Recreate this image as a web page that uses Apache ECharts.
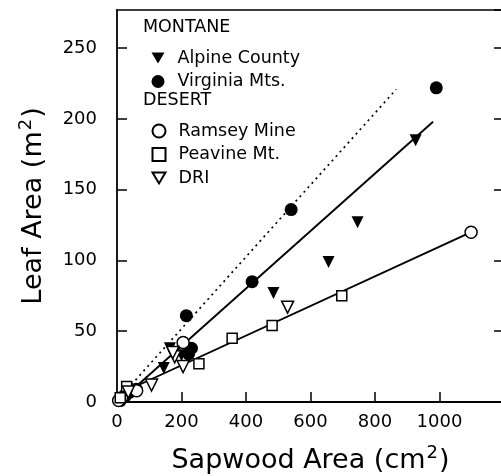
<!DOCTYPE html>
<html>
<head>
    <meta charset="utf-8">
    <title>Leaf area vs sapwood area</title>
    <script src="https://cdn.jsdelivr.net/npm/echarts@6/dist/echarts.min.js"></script>
    <style>
        html, body { margin: 0; padding: 0; background: #fff; }
    </style>
</head>
<body>
<div id="main" style="width: 501px;height:476px;"></div>
<script type="text/javascript">
    // [sapwood area cm2, leaf area m2]
    var alpineCounty = [[926, 185], [746, 127], [656, 99], [485, 77], [164, 38], [145, 24], [200, 33], [40, 6], [28, 4]];
    var virginiaMts = [[990, 222], [540, 136], [419, 85], [215, 61], [231, 38], [222, 34], [40, 7], [25, 4], [60, 9], [10, 1]];
    var ramseyMine = [[1098, 120], [205, 42], [14, 3], [61, 8], [5, 1]];
    var peavineMt = [[697, 75], [481, 54], [357, 45], [254, 27], [30, 11], [10, 3]];
    var dri = [[529, 67], [107, 12], [179, 32], [205, 25], [173, 35], [35, 7]];

    // fitted lines (end points)
    var montaneFit = [[15, 2], [980, 198]];
    var virginiaFit = [[20, 6], [866, 221]];
    var desertFit = [[10, 6], [1098, 120]];

    var xTicks = { min: 0, max: 1200, interval: 200 };
    var yTicks = { min: 0, max: 277, interval: 50 };

    var font = 'DejaVu Sans';
    var downTri = 'path://M0,0L12,0L6,10Z';
    var myChart = echarts.init(document.getElementById('main'));

    function pointSeries(name, data, symbol, open, size) {
        return {
            name: name,
            type: 'scatter',
            data: data,
            symbol: symbol,
            symbolSize: size,
            symbolRotate: symbol === 'triangle' ? 180 : 0,
            symbolKeepAspect: true,
            itemStyle: open
                ? { color: '#fff', borderColor: '#000', borderWidth: 1.5, opacity: 1 }
                : { color: '#000', borderColor: '#000', borderWidth: 0, opacity: 1 },
            z: 3
        };
    }

    function fitSeries(data, dashed) {
        return {
            type: 'line',
            data: data,
            showSymbol: false,
            symbol: 'none',
            silent: true,
            lineStyle: { color: '#000', width: dashed ? 1.7 : 1.9, type: dashed ? [2, 4] : 'solid' },
            z: 2
        };
    }

    var legendText = {
        fontFamily: font, fontSize: 17.5, color: '#000', lineHeight: 20, padding: [0, 0, 0, 8]
    };

    var titleStyle = {
        fontFamily: font, fontSize: 27, color: '#000',
        rich: { sup: { fontFamily: font, fontSize: 18, color: '#000', padding: [0, 1, 16, 1] } }
    };

    function plainNumber(v) { return String(v); }

    myChart.setOption({
        animation: false,
        textStyle: { fontFamily: font },
        grid: { left: 117, right: -3, top: 10, bottom: 74, outerBoundsMode: 'none', containLabel: false },
        graphic: [
            { type: 'text', left: 143, top: 18, style: { text: 'MONTANE', font: '17.5px ' + font, fill: '#000' } },
            { type: 'text', left: 143, top: 91, style: { text: 'DESERT', font: '17.5px ' + font, fill: '#000' } }
        ],
        legend: [{
            data: [{ name: 'Alpine County', icon: downTri }, { name: 'Virginia Mts.', icon: 'circle' }],
            orient: 'vertical', left: 146.5, top: 43,
            itemWidth: 13, itemHeight: 13, itemGap: 3.5,
            selectedMode: false, textStyle: legendText
        }, {
            data: [{ name: 'Ramsey Mine', icon: 'circle' }, { name: 'Peavine Mt.', icon: 'rect' }, { name: 'DRI', icon: downTri }],
            orient: 'vertical', left: 146.5, top: 116,
            itemWidth: 13, itemHeight: 13, itemGap: 3.5,
            selectedMode: false, textStyle: legendText
        }],
        xAxis: [{
            type: 'value',
            min: xTicks.min, max: xTicks.max, interval: xTicks.interval,
            name: 'Sapwood Area (cm{sup|2})',
            nameLocation: 'middle', nameGap: 42,
            nameTextStyle: titleStyle,
            axisLine: { onZero: false, lineStyle: { color: '#000', width: 1.8 } },
            axisTick: { inside: true, length: 10, lineStyle: { color: '#000', width: 1.5 } },
            axisLabel: { fontFamily: font, fontSize: 18, color: '#000', margin: 11, showMaxLabel: false, formatter: plainNumber },
            splitLine: { show: false }
        }, {
            type: 'value', position: 'top',
            min: xTicks.min, max: xTicks.max, interval: xTicks.interval,
            axisLine: { onZero: false, lineStyle: { color: '#000', width: 1.5 } },
            axisTick: { show: false }, axisLabel: { show: false }, splitLine: { show: false }
        }],
        yAxis: [{
            type: 'value',
            min: yTicks.min, max: yTicks.max, interval: yTicks.interval,
            name: 'Leaf Area (m{sup|2})',
            nameLocation: 'middle', nameGap: 66,
            nameTextStyle: titleStyle,
            axisLine: { onZero: false, lineStyle: { color: '#000', width: 1.8 } },
            axisTick: { inside: true, length: 10, lineStyle: { color: '#000', width: 1.5 } },
            axisLabel: { fontFamily: font, fontSize: 18, color: '#000', margin: 20, showMaxLabel: false, formatter: plainNumber },
            splitLine: { show: false }
        }, {
            type: 'value', position: 'right',
            min: yTicks.min, max: yTicks.max, interval: yTicks.interval,
            axisLine: { onZero: false, lineStyle: { color: '#000', width: 1.5 } },
            axisTick: { inside: true, length: 10, lineStyle: { color: '#000', width: 1.5 } },
            axisLabel: { show: false }, splitLine: { show: false }
        }],
        series: [
            fitSeries(virginiaFit, true),
            fitSeries(montaneFit, false),
            fitSeries(desertFit, false),
            pointSeries('Alpine County', alpineCounty, 'triangle', false, 12),
            pointSeries('Virginia Mts.', virginiaMts, 'circle', false, 13),
            pointSeries('Ramsey Mine', ramseyMine, 'circle', true, 12),
            pointSeries('Peavine Mt.', peavineMt, 'rect', true, 10),
            pointSeries('DRI', dri, 'triangle', true, 12)
        ]
    });
</script>
</body>
</html>
